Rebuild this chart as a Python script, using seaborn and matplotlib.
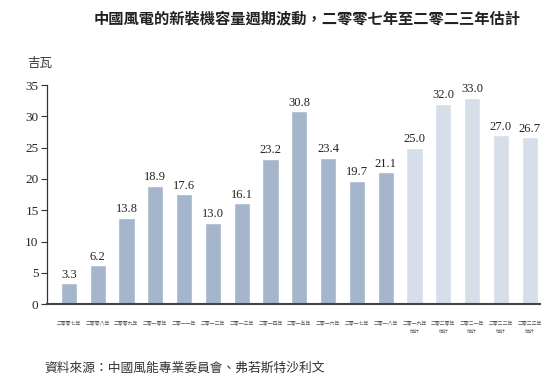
import matplotlib
matplotlib.use("Agg")
import matplotlib.pyplot as plt
import seaborn as sns
import pandas as pd

years = ["二零零七年", "二零零八年", "二零零九年", "二零一零年", "二零一一年", "二零一二年",
         "二零一三年", "二零一四年", "二零一五年", "二零一六年", "二零一七年", "二零一八年",
         "二零一九年\n估計", "二零二零年\n估計", "二零二一年\n估計", "二零二二年\n估計", "二零二三年\n估計"]
values = [3.3, 6.2, 13.8, 18.9, 17.6, 13.0, 16.1, 23.2, 30.8, 23.4, 19.7, 21.1,
          25.0, 32.0, 33.0, 27.0, 26.7]
kind = ["歷史"] * 12 + ["估計"] * 5
yticks = [0, 5, 10, 15, 20, 25, 30, 35]

sns.set_theme(style="white")
plt.rcParams['font.family'] = ['Liberation Serif', 'Noto Sans CJK TC', 'DejaVu Sans']

df = pd.DataFrame({"year": years, "value": values, "kind": kind})
palette = {"歷史": "#a5b5cc", "估計": "#d6dee9"}

fig = plt.figure(figsize=(5.52, 3.82), dpi=100)
ax = fig.add_axes([0.085, 0.204, 0.893, 0.573])
sns.barplot(data=df, x="year", y="value", hue="kind", palette=palette, dodge=False,
            width=0.56, legend=False, ax=ax, saturation=1)

for i, v in enumerate(values):
    ax.text(i, v + 0.4, f"{v:.1f}", ha="center", va="bottom", fontsize=9, color="#222222")

ax.set_ylim(0, 35)
ax.set_yticks(yticks)
ax.set_xlim(-0.76, 16.35)
ax.set_xlabel("")
ax.set_ylabel("")
ax.tick_params(axis="y", labelsize=9.5, length=4, width=0.8, color="#333333", left=True, pad=2)
ax.tick_params(axis="x", labelsize=3.5, length=0, pad=12, colors="#555555")
for lab in ax.get_xticklabels():
    lab.set_family(['Noto Sans CJK TC'])
    lab.set_linespacing(1.6)
for s in ["top", "right"]:
    ax.spines[s].set_visible(False)
ax.spines["left"].set_color("#333333")
ax.spines["bottom"].set_color("#444444")
ax.spines["bottom"].set_linewidth(1.5)
ax.spines["left"].set_linewidth(0.9)

fig.text(0.05, 0.833, "吉瓦", fontsize=9, va="center", family=['Noto Sans CJK TC'], color="#333333")
fig.text(0.556, 0.952, "中國風電的新裝機容量週期波動，二零零七年至二零二三年估計",
         ha="center", va="center", fontsize=11, fontweight="bold",
         family=['Noto Sans CJK TC'], color="#222222")
fig.text(0.08, 0.037, "資料來源：中國風能專業委員會、弗若斯特沙利文", fontsize=9.2, va="center",
         family=['Noto Sans CJK TC'], color="#333333", style="italic")

fig.savefig("out.png", dpi=100)
